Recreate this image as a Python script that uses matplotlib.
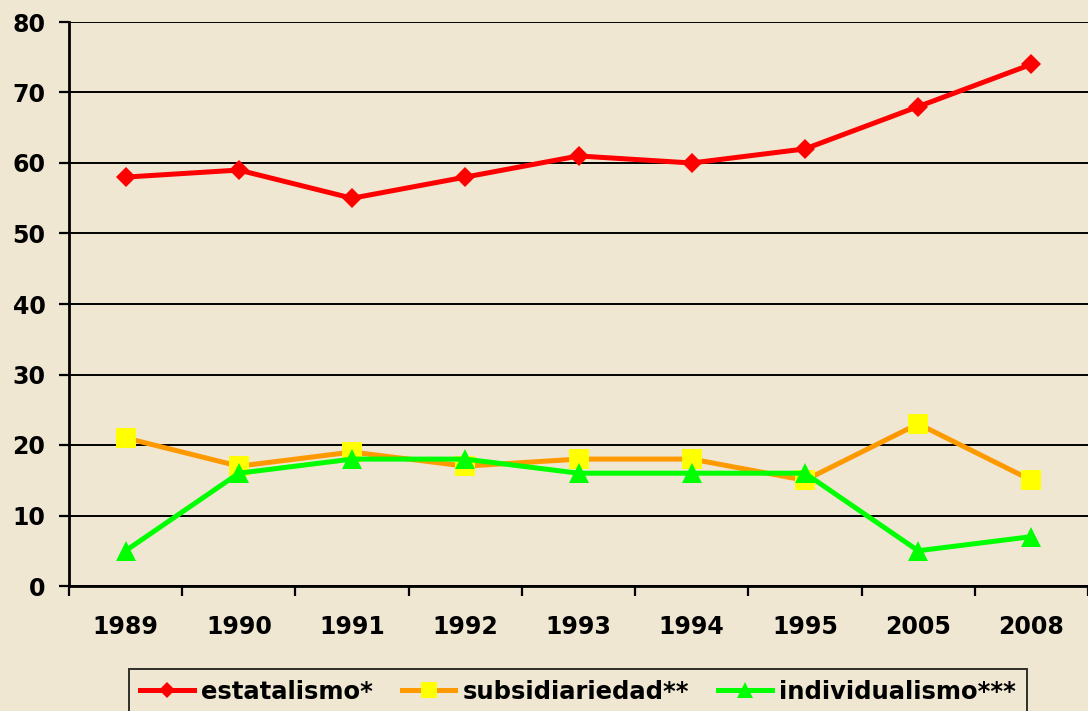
import matplotlib.pyplot as plt
import numpy as np

years = ["1989", "1990", "1991", "1992", "1993", "1994", "1995", "2005", "2008"]
estatalismo = [58, 59, 55, 58, 61, 60, 62, 68, 74]
subsidiariedad = [21, 17, 19, 17, 18, 18, 15, 23, 15]
individualismo = [5, 16, 18, 18, 16, 16, 16, 5, 7]
yticks = [0, 10, 20, 30, 40, 50, 60, 70, 80]

bg = "#EFE7D2"
plt.rcParams['font.family'] = ['DejaVu Sans']
plt.rcParams['font.weight'] = 'bold'

fig = plt.figure(figsize=(10.88, 7.11), dpi=100, facecolor=bg)
ax = fig.add_axes([69/1088, (711-586)/711, 1019/1088, 564/711], facecolor=bg)

x = np.arange(len(years))
ax.plot(x, estatalismo, color="#FF0000", lw=3.6, marker="D", ms=10.5,
        mfc="#FF0000", mec="#FF0000", mew=0, label="estatalismo*", zorder=3)
ax.plot(x, subsidiariedad, color="#FF9900", lw=3.6, marker="s", ms=14,
        mfc="#FFFF00", mec="#FFFF00", mew=0, label="subsidiariedad**", zorder=3)
ax.plot(x, individualismo, color="#00FF00", lw=3.6, marker="^", ms=15,
        mfc="#00FF00", mec="#00FF00", mew=0, label="individualismo***", zorder=4)

ax.set_xlim(-0.5, len(years) - 0.5)
ax.set_ylim(0, 80)
ax.set_yticks(yticks)
ax.set_yticklabels([str(v) for v in yticks])
ax.yaxis.grid(True, color="black", lw=1.4)
ax.set_axisbelow(True)

ax.set_xticks(x)
ax.set_xticklabels(years)
ax.set_xticks(np.arange(-0.5, len(years)), minor=True)
ax.tick_params(axis='x', which='major', length=0, pad=21, labelsize=17)
ax.tick_params(axis='x', which='minor', length=7, width=1.6, direction='out')
ax.tick_params(axis='y', which='major', length=7, width=1.6, pad=10, labelsize=17)

for s in ['top', 'right']:
    ax.spines[s].set_visible(False)
for s in ['left', 'bottom']:
    ax.spines[s].set_linewidth(2)
    ax.spines[s].set_color('black')

leg = fig.legend(loc='upper center', bbox_to_anchor=(578/1088, 42/711), ncol=3,
                 prop={'size': 17.5, 'weight': 'bold'}, frameon=True, fancybox=False,
                 facecolor=bg, edgecolor='black', handlelength=2.2, handletextpad=0.3,
                 columnspacing=1.2, borderpad=0.45, markerscale=0.8,
                 borderaxespad=0)
leg.get_frame().set_linewidth(1.4)

fig.savefig("out.png", dpi=100, facecolor=bg)
